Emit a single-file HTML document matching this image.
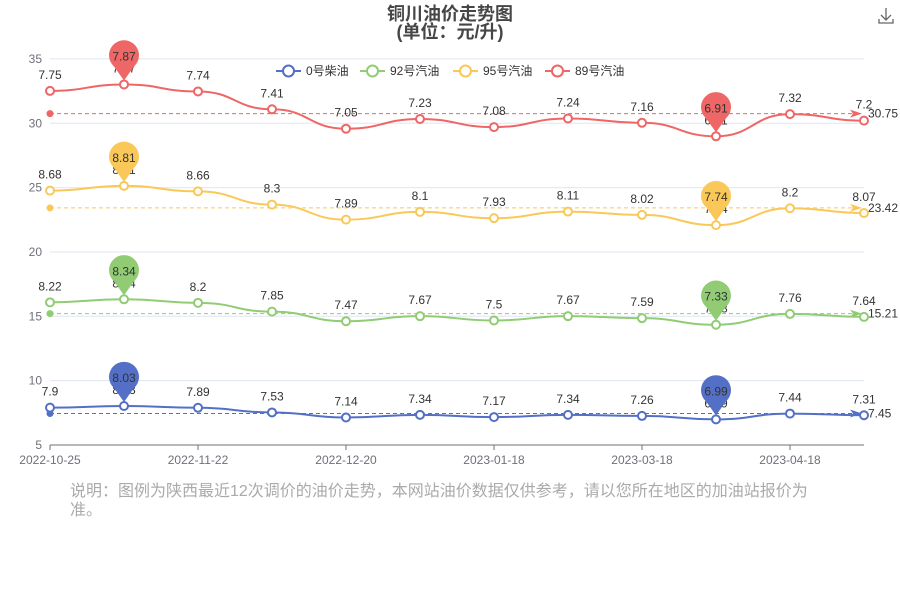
<!DOCTYPE html>
<html><head><meta charset="utf-8"><style>
body{margin:0;background:#fff;}
svg{display:block;font-family:"Liberation Sans","Noto Sans CJK SC",sans-serif;}
</style></head><body>
<svg id="chart" width="900" height="600">
<text x="450" y="20" text-anchor="middle" font-size="18" font-weight="bold" fill="#464646">铜川油价走势图</text>
<text x="450" y="38" text-anchor="middle" font-size="18" font-weight="bold" fill="#464646">(单位：元/升)</text>
<g stroke="#666" fill="none" stroke-width="1.3"><path d="M886 8v12M881 15l5 5 5-5M879 19v4h14v-4"/></g>
<g id="grid"></g><g id="series"></g><g id="legend"></g>
<text x="70" y="496" font-size="16" fill="#aaa">说明：图例为陕西最近12次调价的油价走势，本网站油价数据仅供参考，请以您所在地区的加油站报价为</text>
<text x="70" y="515" font-size="16" fill="#aaa">准。</text>
</svg>
<script>
const dates=["2022-10-25","2022-11-08","2022-11-22","2022-12-06","2022-12-20","2023-01-03","2023-01-18","2023-02-03","2023-03-18","2023-03-31","2023-04-18","2023-05-05"];
const seriesNames=["0号柴油","92号汽油","95号汽油","89号汽油"];
const colors=["#5470c6","#91cc75","#fac858","#ee6666"];
const scales=[1,1.957,2.853,4.195];
const diesel0=[7.9,8.03,7.89,7.53,7.14,7.34,7.17,7.34,7.26,6.99,7.44,7.31];
const gas92=[8.22,8.34,8.2,7.85,7.47,7.67,7.5,7.67,7.59,7.33,7.76,7.64];
const gas95=[8.68,8.81,8.66,8.3,7.89,8.1,7.93,8.11,8.02,7.74,8.2,8.07];
const gas89=[7.75,7.87,7.74,7.41,7.05,7.23,7.08,7.24,7.16,6.91,7.32,7.20];
const yTicks=[5,10,15,20,25,30,35];
const xLabelIdx=[0,2,4,6,8,10];
const ns="http://www.w3.org/2000/svg";
const X0=50,DX=74,Y0=445,PU=12.87;
const xs=i=>X0+i*DX, ys=v=>Y0-(v-5)*PU;
function mk(p,t,a){const e=document.createElementNS(ns,t);for(const k in a)e.setAttribute(k,a[k]);p.appendChild(e);return e;}
const grid=document.getElementById('grid'),sg=document.getElementById('series'),lg=document.getElementById('legend');
yTicks.forEach(v=>{
 if(v>5){const l=mk(grid,'line',{x1:50,x2:864,y1:ys(v),y2:ys(v),stroke:'#e0e6f1'});
 
 }
 const t=mk(grid,'text',{x:42,y:ys(v)+4,'text-anchor':'end','font-size':12,fill:'#6e7079'});t.textContent=v;
 
 
});
const ax=mk(grid,'line',{x1:50,x2:864,y1:Y0,y2:Y0,stroke:'#6e7079'});


xLabelIdx.forEach(i=>{
 const tk=mk(grid,'line',{x1:xs(i),x2:xs(i),y1:Y0,y2:Y0+5,stroke:'#6e7079'});
 
 
 const t=mk(grid,'text',{x:xs(i),y:Y0+19,'text-anchor':'middle','font-size':12,fill:'#6e7079'});t.textContent=dates[i];
 
 
});
const all=[diesel0,gas92,gas95,gas89];
all.forEach((arr,s)=>{
 const c=colors[s],k=scales[s];
 const g=mk(sg,'g',{});
 
 
 const pts=arr.map((p,i)=>[xs(i),ys(p*k)]);
 let d='M'+pts[0][0]+' '+pts[0][1];
 for(let i=1;i<pts.length;i++){const a=pts[i-1],b=pts[i],h=(b[0]-a[0])*0.5;d+=` C${a[0]+h} ${a[1]} ${b[0]-h} ${b[1]} ${b[0]} ${b[1]}`;}
 const ln=mk(g,'path',{d:d,fill:'none',stroke:c,'stroke-width':2});
 
 
 const mean=arr.reduce((a,b)=>a+b,0)/arr.length*k, my=ys(mean);
 const ml=mk(g,'line',{x1:50,x2:856,y1:my,y2:my,stroke:c,'stroke-dasharray':'4 3'});
 
 
 mk(g,'circle',{cx:50,cy:my,r:3.5,fill:c});
 mk(g,'path',{d:`M850 ${my-4}L862 ${my}L850 ${my+4}L853 ${my}Z`,fill:c});
 const mt=mk(g,'text',{x:868,y:my+4,'font-size':12,fill:'#333'});mt.textContent=mean.toFixed(2);
 
 
 arr.forEach((p,i)=>{
  const [x,y]=pts[i];
  const pt=mk(g,'circle',{cx:x,cy:y,r:4,fill:'#fff',stroke:c,'stroke-width':2});
  
  
  const t=mk(g,'text',{x:x,y:y-12,'text-anchor':'middle','font-size':12,fill:'#333'});t.textContent=String(p);
  
  
 });
 const mx=arr.indexOf(Math.max(...arr)),mn=arr.indexOf(Math.min(...arr));
 [mx,mn].forEach(i=>{
  const [x,y]=pts[i],cy=y-28;
  const pin=mk(g,'path',{d:`M${x} ${y-4}L${x-10} ${cy+10}A15 15 0 1 1 ${x+10} ${cy+10}Z`,fill:c});
  
  
  const t=mk(g,'text',{x:x,y:cy+4,'text-anchor':'middle','font-size':12,fill:'#333'});t.textContent=String(arr[i]);
  
  
 });
});
const lx=[276,360,453,545];
seriesNames.forEach((n,s)=>{
 const g=mk(lg,'g',{});
 
 
 const x=lx[s];
 mk(g,'line',{x1:x,x2:x+25,y1:71,y2:71,stroke:colors[s],'stroke-width':2});
 mk(g,'circle',{cx:x+12.5,cy:71,r:5.5,fill:'#fff',stroke:colors[s],'stroke-width':2});
 const t=mk(g,'text',{x:x+30,y:75,'font-size':12,fill:'#333'});t.textContent=n;
});
</script>
</body></html>
